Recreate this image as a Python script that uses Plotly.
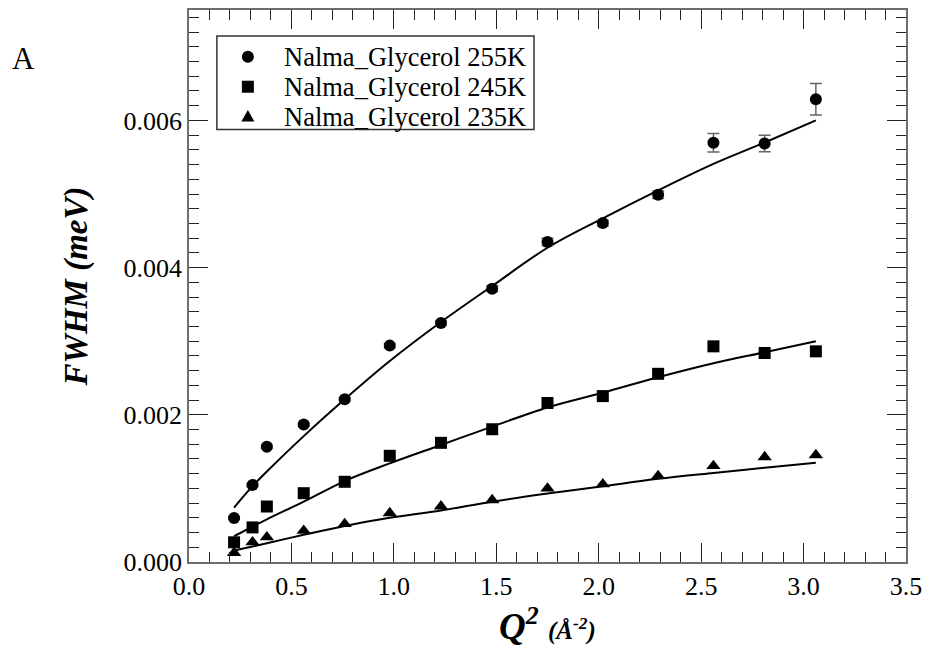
import plotly.graph_objects as go

# ---- data ----
q2 = [0.22, 0.31, 0.38, 0.56, 0.76, 0.98, 1.23, 1.48, 1.75, 2.02, 2.29, 2.56, 2.81, 3.06]

fwhm_255 = [0.000597, 0.001047, 0.001565, 0.001868, 0.00221, 0.00294, 0.003246,
            0.003714, 0.004349, 0.004605, 0.00499, 0.005696, 0.005686, 0.006286]
err_255 = [0.00002, 0.00002, 0.00002, 0.00002, 0.00002, 0.00003, 0.00003,
           0.00004, 0.00005, 0.00004, 0.00005, 0.000126, 0.000113, 0.000214]
fwhm_245 = [0.000268, 0.00047, 0.000754, 0.000935, 0.00109, 0.001443, 0.001619,
            0.001804, 0.00216, 0.002254, 0.002557, 0.00293, 0.00284, 0.002862]
fwhm_235 = [0.000125, 0.00027, 0.000337, 0.000426, 0.000517, 0.000665, 0.000756,
            0.000841, 0.000999, 0.001057, 0.00117, 0.001305, 0.001426, 0.001453]

fit_255 = [0.00074, 0.00103, 0.00123, 0.00171, 0.00221, 0.00273, 0.00326,
           0.00375, 0.00427, 0.00467, 0.00505, 0.00541, 0.00570, 0.00600]
fit_245 = [0.00035, 0.00048, 0.00058, 0.00082, 0.00110, 0.00134, 0.00159,
           0.00184, 0.00210, 0.00230, 0.00251, 0.00270, 0.00285, 0.00300]
fit_235 = [0.000155, 0.00021, 0.000255, 0.00037, 0.00049, 0.00060, 0.00070,
           0.00082, 0.00093, 0.00103, 0.00113, 0.00121, 0.00128, 0.00135]

labels = ["Nalma_Glycerol 255K", "Nalma_Glycerol 245K", "Nalma_Glycerol 235K"]

FONT = "Liberation Serif, Times New Roman, serif"
AXC = "#6e6e6e"
TKC = "#222222"

fig = go.Figure()

# fit curves
for fit in (fit_255, fit_245, fit_235):
    fig.add_trace(go.Scatter(x=q2, y=fit, mode="lines",
                             line=dict(color="black", width=2, shape="spline"),
                             showlegend=False, hoverinfo="skip"))

# data points
fig.add_trace(go.Scatter(x=q2, y=fwhm_255, mode="markers", name=labels[0], showlegend=False,
                         marker=dict(symbol="circle", size=12, color="black"),
                         error_y=dict(type="data", array=err_255, visible=True, color="#666666",
                                      thickness=1.5, width=6)))
fig.add_trace(go.Scatter(x=q2, y=fwhm_245, mode="markers", name=labels[1], showlegend=False,
                         marker=dict(symbol="square", size=12, color="black")))
fig.add_trace(go.Scatter(x=q2, y=fwhm_235, mode="markers", name=labels[2], showlegend=False,
                         marker=dict(symbol="triangle-up", size=12.5, color="black")))

# ---- legend box (drawn as paper-anchored shapes + text) ----
box = dict(x0=0.0389, x1=0.4812, y0=0.7834, y1=0.9531)
row_y = [0.9152, 0.8610, 0.8069]
key_x = 0.0821
text_x = 0.1293

shapes = [dict(type="rect", xref="paper", yref="paper", layer="above",
               fillcolor="white", line=dict(color="#333333", width=1.5), **box)]
# key symbols, sized in pixels around an anchor
shapes.append(dict(type="circle", xref="paper", yref="paper", xsizemode="pixel", ysizemode="pixel",
                   xanchor=key_x, yanchor=row_y[0], x0=-6, x1=6, y0=-6, y1=6,
                   fillcolor="black", line=dict(width=0), layer="above"))
shapes.append(dict(type="rect", xref="paper", yref="paper", xsizemode="pixel", ysizemode="pixel",
                   xanchor=key_x, yanchor=row_y[1], x0=-6, x1=6, y0=-6, y1=6,
                   fillcolor="black", line=dict(width=0), layer="above"))
shapes.append(dict(type="path", xref="paper", yref="paper", xsizemode="pixel", ysizemode="pixel",
                   xanchor=key_x, yanchor=row_y[2], path="M-6.5,-5 L6.5,-5 L0,6.5 Z",
                   fillcolor="black", line=dict(width=0), layer="above"))

annotations = [dict(text=lab, xref="paper", yref="paper", x=text_x, y=yy,
                    xanchor="left", yanchor="middle", showarrow=False,
                    font=dict(family=FONT, size=26.5, color="black"))
               for lab, yy in zip(labels, row_y)]
annotations.append(dict(text="A", xref="paper", yref="paper", x=-0.231, y=0.912,
                        xanchor="center", yanchor="middle", showarrow=False,
                        font=dict(family=FONT, size=31, color="black")))

fig.update_layout(
    width=930, height=661,
    margin=dict(l=189, r=22, t=8, b=99),
    paper_bgcolor="white", plot_bgcolor="white",
    font=dict(family=FONT, size=26, color="black"),
    showlegend=False,
    xaxis=dict(range=[0, 3.5], dtick=0.5, tick0=0, tickformat=".1f",
               showgrid=False, zeroline=False,
               showline=True, linecolor=AXC, linewidth=1.5, mirror="ticks",
               ticks="inside", ticklen=19, tickwidth=1.2, tickcolor=TKC,
               tickfont=dict(family=FONT, size=26),
               minor=dict(dtick=0.1, ticks="inside", ticklen=10, tickwidth=1.2, tickcolor=TKC, showgrid=False),
               title=dict(text="<b><i>Q<sup>2</sup></i></b> <b><i><span style='font-size:25px'>(Å<sup>-2</sup>)</span></i></b>",
                          font=dict(family=FONT, size=37), standoff=4)),
    yaxis=dict(range=[0, 0.0075], dtick=0.002, tick0=0, tickformat=".3f",
               showgrid=False, zeroline=False,
               showline=True, linecolor=AXC, linewidth=1.5, mirror="ticks",
               ticks="inside", ticklen=19, tickwidth=1.2, tickcolor=TKC,
               tickfont=dict(family=FONT, size=26),
               minor=dict(dtick=0.0002, ticks="inside", ticklen=10, tickwidth=1.2, tickcolor=TKC, showgrid=False),
               title=dict(text="<b><i>FWHM (meV)</i></b>", font=dict(family=FONT, size=33), standoff=26)),
    yaxis2=dict(range=[0, 0.0075], overlaying="y", side="left", anchor="x",
                dtick=0.001, tick0=0, showticklabels=False, showgrid=False, zeroline=False,
                showline=True, linecolor=AXC, linewidth=1.5, mirror="ticks",
                ticks="inside", ticklen=15, tickwidth=1.2, tickcolor=TKC),
    shapes=shapes,
    annotations=annotations,
)

fig.write_html("out.html")
